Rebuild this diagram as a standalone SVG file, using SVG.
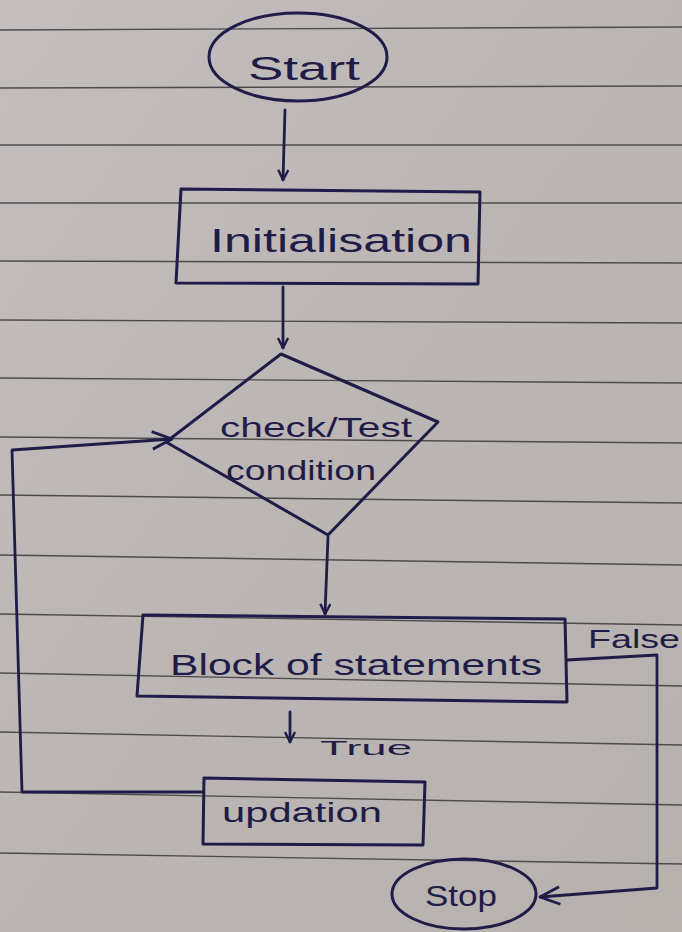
<svg xmlns="http://www.w3.org/2000/svg" width="682" height="932" viewBox="0 0 682 932">
<defs>
<linearGradient id="paper" x1="0" y1="0" x2="1" y2="1">
<stop offset="0" stop-color="#c3bebd"/>
<stop offset="0.5" stop-color="#bbb5b4"/>
<stop offset="1" stop-color="#b7b1ae"/>
</linearGradient>
<marker id="arr" viewBox="0 0 12 12" refX="11" refY="6" markerWidth="12" markerHeight="12" markerUnits="userSpaceOnUse" orient="auto">
<path d="M1,1 L11,6 L1,11" fill="none" stroke="#1f1c48" stroke-width="2.4"/>
</marker>
<marker id="arrBig" viewBox="0 0 20 20" refX="19" refY="10" markerWidth="22" markerHeight="22" markerUnits="userSpaceOnUse" orient="auto">
<path d="M1,2 L19,10 L1,18" fill="none" stroke="#1f1c48" stroke-width="2.6"/>
</marker>
</defs>
<style>
.rule{stroke:#4e4b4c;stroke-width:1.4;fill:none}
.ink{stroke:#1f1c48;stroke-width:3;fill:none;stroke-linejoin:round;stroke-linecap:round}
.conn{stroke:#1f1c48;stroke-width:2.8;fill:none;stroke-linejoin:round;stroke-linecap:round}
.t{font-family:"Liberation Sans","DejaVu Sans",sans-serif;fill:#1f1c48}
</style>
<rect x="0" y="0" width="682" height="932" fill="url(#paper)"/>
<g id="ruled-lines">
<line class="rule" x1="0" y1="30" x2="682" y2="27"/>
<line class="rule" x1="0" y1="88" x2="682" y2="86"/>
<line class="rule" x1="0" y1="145" x2="682" y2="145"/>
<line class="rule" x1="0" y1="203" x2="682" y2="203"/>
<line class="rule" x1="0" y1="261" x2="682" y2="263"/>
<line class="rule" x1="0" y1="320" x2="682" y2="323"/>
<line class="rule" x1="0" y1="378" x2="682" y2="383"/>
<line class="rule" x1="0" y1="437" x2="682" y2="443"/>
<line class="rule" x1="0" y1="495" x2="682" y2="503"/>
<line class="rule" x1="0" y1="555" x2="682" y2="565"/>
<line class="rule" x1="0" y1="614" x2="682" y2="625"/>
<line class="rule" x1="0" y1="673" x2="682" y2="686"/>
<line class="rule" x1="0" y1="732" x2="682" y2="745"/>
<line class="rule" x1="0" y1="792" x2="682" y2="805"/>
<line class="rule" x1="0" y1="853" x2="682" y2="864"/>
</g>
<g id="connectors">
<line class="conn" x1="285" y1="110" x2="283" y2="180" marker-end="url(#arr)"/>
<line class="conn" x1="283" y1="287" x2="283" y2="348" marker-end="url(#arr)"/>
<line class="conn" x1="328" y1="537" x2="325" y2="614" marker-end="url(#arr)"/>
<line class="conn" x1="290" y1="712" x2="290" y2="742" marker-end="url(#arr)"/>
<polyline class="conn" points="203,792 22,792 12,450 172,439" marker-end="url(#arrBig)"/>
<polyline class="conn" points="567,660 657,655 657,888 540,897" marker-end="url(#arrBig)"/>
<text class="t" x="588" y="648" font-size="26" textLength="92" lengthAdjust="spacingAndGlyphs">False</text>
<text class="t" x="320" y="755" font-size="20" textLength="92" lengthAdjust="spacingAndGlyphs">True</text>
</g>
<g id="start">
<ellipse class="ink" cx="298" cy="57" rx="89" ry="44"/>
<text class="t" x="304" y="80" font-size="34" text-anchor="middle" textLength="112" lengthAdjust="spacingAndGlyphs">Start</text>
</g>
<g id="initialisation">
<path class="ink" d="M181,189 L480,192 L478,284 L176,283 Z"/>
<text class="t" x="210" y="252" font-size="34" textLength="262" lengthAdjust="spacingAndGlyphs">Initialisation</text>
</g>
<g id="condition">
<path class="ink" d="M281,354 L438,422 L328,535 L166,442 Z"/>
<text class="t" x="220" y="437" font-size="28" textLength="192" lengthAdjust="spacingAndGlyphs">check/Test</text>
<text class="t" x="226" y="480" font-size="28" textLength="150" lengthAdjust="spacingAndGlyphs">condition</text>
</g>
<g id="block">
<path class="ink" d="M143,615 L565,619 L567,702 L137,696 Z"/>
<text class="t" x="170" y="675" font-size="30" textLength="372" lengthAdjust="spacingAndGlyphs">Block of statements</text>
</g>
<g id="updation">
<path class="ink" d="M204,778 L425,782 L423,845 L203,844 Z"/>
<text class="t" x="222" y="822" font-size="28" textLength="160" lengthAdjust="spacingAndGlyphs">updation</text>
</g>
<g id="stop">
<ellipse class="ink" cx="464" cy="894" rx="72" ry="35"/>
<text class="t" x="461" y="906" font-size="30" text-anchor="middle" textLength="72" lengthAdjust="spacingAndGlyphs">Stop</text>
</g>
</svg>
